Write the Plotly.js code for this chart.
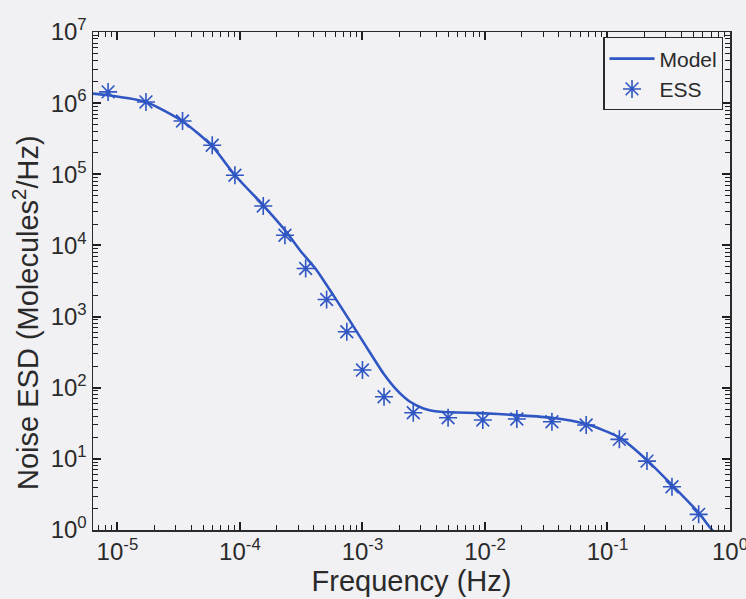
<!DOCTYPE html>
<html>
<head>
<meta charset="utf-8">
<script src="https://cdn.plot.ly/plotly-3.0.1.min.js"></script>
<style>
  html, body { margin: 0; padding: 0; background: #f1f1f3; }
  #chart { width: 746px; height: 599px; }
</style>
</head>
<body>
<div id="chart"></div>
<script>
// Model curve: frequency (Hz) and noise energy spectral density
const modelFreq = [6.32e-6, 8.39e-6, 1.71e-5, 3.40e-5, 5.94e-5, 9.10e-5, 1.55e-4, 2.33e-4,
                   3.09e-4, 4.23e-4, 5.78e-4, 7.92e-4, 1.08e-3, 1.48e-3, 1.91e-3, 2.45e-3,
                   3.15e-3, 4.31e-3, 9.14e-3, 1.82e-2, 3.52e-2, 6.71e-2, 0.125, 0.210,
                   0.336, 0.555, 0.714, 1.0];
const modelESD  = [1.36e6, 1.29e6, 1.04e6, 5.56e5, 2.48e5, 9.7e4, 3.67e4, 1.64e4,
                   8.57e3, 4.49e3, 2.0e3, 863, 372, 160, 92.6, 63.4,
                   51.2, 45.9, 44.0, 41.2, 37.8, 30.8, 20.0, 9.6,
                   4.29, 1.75, 1.0, 0.6];

// ESS estimates
const essFreq = [8.39e-6, 1.71e-5, 3.40e-5, 5.94e-5, 9.1e-5, 1.55e-4, 2.33e-4, 3.44e-4,
                 5.1e-4, 7.45e-4, 1.0e-3, 1.5e-3, 2.6e-3, 5.0e-3, 9.6e-3, 1.82e-2,
                 3.52e-2, 6.7e-2, 0.125, 0.21, 0.336, 0.555];
const essESD  = [1.44e6, 1.04e6, 5.6e5, 2.56e5, 9.7e4, 3.59e4, 1.39e4, 4.74e3,
                 1.74e3, 611, 177, 74.5, 44.5, 37.8, 35.1, 36.3,
                 33.2, 29.9, 18.8, 9.3, 4.06, 1.66];

// Axis ticks
const xTickVals = [1e-5, 1e-4, 1e-3, 1e-2, 1e-1, 1];
const xTickText = ['10<sup>-5</sup>', '10<sup>-4</sup>', '10<sup>-3</sup>', '10<sup>-2</sup>', '10<sup>-1</sup>', '10<sup>0</sup>'];
const yTickVals = [1, 10, 100, 1e3, 1e4, 1e5, 1e6, 1e7];
const yTickText = ['10<sup>0</sup>', '10<sup>1</sup>', '10<sup>2</sup>', '10<sup>3</sup>', '10<sup>4</sup>', '10<sup>5</sup>', '10<sup>6</sup>', '10<sup>7</sup>'];

// minor ticks at 2..9 within each decade
function minorTicks(decades) {
  const out = [];
  decades.forEach(d => { for (let k = 2; k <= 9; k++) out.push(d * k); });
  return out;
}
const xMinor = minorTicks([1e-6, 1e-5, 1e-4, 1e-3, 1e-2, 1e-1]);
const yMinor = minorTicks([1, 10, 100, 1e3, 1e4, 1e5, 1e6]);

const blue = '#2f56c2';
const ink = '#2a2a2a';
const tickInk = 'rgb(30,30,30)';
const font = 'Liberation Sans, Arial, Helvetica, sans-serif';

const traces = [
  {
    x: modelFreq, y: modelESD, name: 'Model', type: 'scatter', mode: 'lines',
    line: { color: blue, width: 2.6, shape: 'spline', smoothing: 0.6 }
  },
  {
    x: essFreq, y: essESD, name: 'ESS', type: 'scatter', mode: 'markers',
    marker: { symbol: 'asterisk-open', size: 15, color: blue, line: { color: blue, width: 1.6 } }
  }
];

const minorStyle = { tickmode: 'array', ticks: 'inside', ticklen: 5, tickwidth: 1, tickcolor: tickInk, showgrid: false };

const axisCommon = {
  type: 'log',
  showgrid: false, zeroline: false,
  showline: true, linecolor: ink, linewidth: 1.5,
  mirror: 'allticks', ticks: 'inside', ticklen: 8, tickwidth: 2, tickcolor: tickInk,
  tickmode: 'array', ticklabeloverflow: 'allow',
  tickfont: { family: font, size: 24, color: ink }
};

const layout = {
  width: 746, height: 599,
  paper_bgcolor: '#f1f1f3', plot_bgcolor: '#f1f1f3',
  margin: { l: 93, r: 16, t: 32, b: 69 },
  showlegend: true,
  legend: {
    x: 0.9895, y: 0.9894, xanchor: 'right', yanchor: 'top',
    bgcolor: '#f3f3f5', bordercolor: ink, borderwidth: 1.2,
    font: { family: font, size: 21, color: ink },
    itemwidth: 45, tracegroupgap: 0
  },
  xaxis: Object.assign({}, axisCommon, {
    range: [Math.log10(6.32e-6), 0],
    tickvals: xTickVals, ticktext: xTickText,
    minor: Object.assign({ tickvals: xMinor }, minorStyle),
    title: { text: 'Frequency (Hz)', font: { family: font, size: 29, color: ink }, standoff: 6 }
  }),
  yaxis: Object.assign({}, axisCommon, {
    range: [0, 7],
    tickvals: yTickVals, ticktext: yTickText,
    minor: Object.assign({ tickvals: yMinor }, minorStyle)
  }),
  annotations: [{
    text: 'Noise ESD (Molecules<sup>2</sup>/Hz)',
    xref: 'paper', yref: 'paper', x: -0.105, y: 0.436,
    xanchor: 'center', yanchor: 'middle', textangle: -90, showarrow: false,
    font: { family: font, size: 29, color: ink }
  }]
};

Plotly.newPlot('chart', traces, layout, { displayModeBar: false, staticPlot: true });
</script>
</body>
</html>
